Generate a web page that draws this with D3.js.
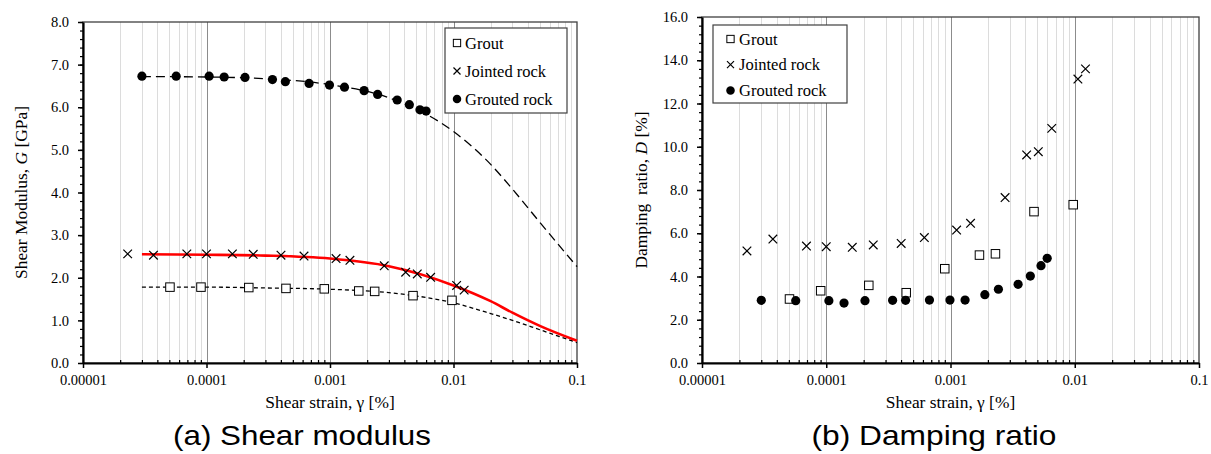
<!DOCTYPE html>
<html>
<head>
<meta charset="utf-8">
<script src="https://cdn.jsdelivr.net/npm/d3@7"></script>
<style>
body { margin: 0; background: #fff; }
svg text { font-family: "Liberation Serif", "Times New Roman", serif !important; fill: #000; }
svg text.sub { font-family: "Liberation Sans", Arial, sans-serif !important; }
</style>
</head>
<body>
<svg id="chart" width="1211" height="454"></svg>
<script>
// legend / axis text
let seriesNames = ['Grout', 'Jointed rock', 'Grouted rock']
let xTickValues = [1e-5, 1e-4, 1e-3, 1e-2, 1e-1]
let xTickLabels = ['0.00001', '0.0001', '0.001', '0.01', '0.1']

// shear strain [%] of each test point
let groutStrain = [5.06e-5, 9.02e-5, 2.20e-4, 4.40e-4, 8.99e-4, 1.71e-3, 2.30e-3, 4.70e-3, 9.72e-3]
let jointStrain = [2.30e-5, 3.72e-5, 6.93e-5, 1.00e-4, 1.62e-4, 2.39e-4, 4.01e-4, 6.16e-4,
	1.12e-3, 1.45e-3, 2.75e-3, 4.10e-3, 5.09e-3, 6.53e-3, 1.06e-2, 1.22e-2]
let groutedStrain = [3.0e-5, 5.68e-5, 1.05e-4, 1.39e-4, 2.05e-4, 3.42e-4, 4.35e-4, 6.77e-4,
	9.9e-4, 1.31e-3, 1.89e-3, 2.43e-3, 3.50e-3, 4.39e-3, 5.35e-3, 6.0e-3]

// shear modulus G [GPa]
let groutG = [1.78, 1.78, 1.77, 1.75, 1.74, 1.69, 1.68, 1.58, 1.47]
let jointG = [2.56, 2.53, 2.56, 2.56, 2.56, 2.55, 2.53, 2.51, 2.45, 2.41, 2.28, 2.13, 2.09, 2.01, 1.82, 1.71]
let groutedG = [6.73, 6.73, 6.73, 6.71, 6.70, 6.65, 6.60, 6.56, 6.52, 6.47, 6.39, 6.30, 6.17, 6.06, 5.94, 5.91]

// fitted curves
let fitStrain = [3e-5, 1e-4, 3e-4, 1e-3, 3e-3, 1e-2, 2e-2, 3e-2, 5e-2, 1e-1]
let groutFitG = [1.78, 1.78, 1.76, 1.73, 1.65, 1.41, 1.16, 1.00, 0.78, 0.48]
let jointFitG = [2.55, 2.54, 2.52, 2.45, 2.27, 1.82, 1.45, 1.18, 0.87, 0.52]
let groutedFitG = [6.72, 6.71, 6.67, 6.53, 6.22, 5.43, 4.66, 4.08, 3.30, 2.26]

// damping ratio D [%]
let groutD = [2.96, 3.34, 3.59, 3.25, 4.36, 4.99, 5.05, 7.00, 7.32]
let jointD = [5.18, 5.73, 5.41, 5.38, 5.35, 5.46, 5.53, 5.80, 6.15, 6.46, 7.65, 9.62, 9.77, 10.85, 13.13, 13.60]
let groutedD = [2.90, 2.88, 2.88, 2.77, 2.88, 2.90, 2.90, 2.91, 2.91, 2.91, 3.16, 3.41, 3.64, 4.02, 4.50, 4.84]

let svg = d3.select('#chart')
let serif = '"Liberation Serif", "Times New Roman", serif'

function zip(a, b) {
	return a.map(function(v, i) { return [v, b[i]] })
}

function drawSquare(sel, size) {
	sel.append('rect')
		.attr('x', -size / 2).attr('y', -size / 2)
		.attr('width', size).attr('height', size)
		.attr('fill', '#fff').attr('stroke', '#000').attr('stroke-width', 1)
}
function drawCross(sel, size) {
	let h = size / 2
	sel.append('path')
		.attr('d', `M${-h},${-h}L${h},${h}M${-h},${h}L${h},${-h}`)
		.attr('stroke', '#000').attr('stroke-width', 1.2).attr('fill', 'none')
}
function drawDot(sel, size) {
	sel.append('circle').attr('r', size / 2).attr('fill', '#000')
}

function drawPanel(p) {
	let x = d3.scaleLog().domain([1e-5, 0.1]).range([p.left, p.right])
	let y = d3.scaleLinear().domain([0, p.yMax]).range([p.bottom, p.top])
	let g = svg.append('g')

	// vertical grid
	let minor = []
	xTickValues.slice(0, -1).forEach(function(d) {
		for (let k = 2; k < 10; k++) minor.push(k * d)
	})
	g.selectAll('line.minor').data(minor).enter().append('line')
		.attr('class', 'minor')
		.attr('x1', d => Math.round(x(d)) + 0.5).attr('x2', d => Math.round(x(d)) + 0.5)
		.attr('y1', p.top).attr('y2', p.bottom)
		.attr('stroke', '#dcdcdc').attr('stroke-width', 1)
	g.selectAll('line.major').data(xTickValues.slice(1, -1)).enter().append('line')
		.attr('class', 'major')
		.attr('x1', d => Math.round(x(d)) + 0.5).attr('x2', d => Math.round(x(d)) + 0.5)
		.attr('y1', p.top).attr('y2', p.bottom)
		.attr('stroke', '#8c8c8c').attr('stroke-width', 1)

	g.append('rect')
		.attr('x', p.left).attr('y', p.top)
		.attr('width', p.right - p.left).attr('height', p.bottom - p.top)
		.attr('fill', 'none').attr('stroke', '#404040').attr('stroke-width', 1.3)

	// y axis
	let yMajor = d3.range(0, p.yMax + 1e-9, p.yStep)
	let yMinor = d3.range(0, p.yMax + 1e-9, p.yMinorStep)
	g.append('g').attr('transform', `translate(${p.left},0)`)
		.call(d3.axisLeft(y).tickValues(yMinor).tickSize(3).tickSizeOuter(0).tickFormat(''))
		.call(s => s.select('.domain').remove())
		.selectAll('line').attr('stroke-width', 1.2)
	let ya = g.append('g').attr('transform', `translate(${p.left},0)`)
		.call(d3.axisLeft(y).tickValues(yMajor).tickSize(5).tickSizeOuter(0).tickPadding(9).tickFormat(d3.format('.1f')))
	ya.attr('font-family', serif)
	ya.select('.domain').attr('stroke-width', 2.2)
	ya.selectAll('line').attr('stroke-width', 1.5)
	ya.selectAll('text').style('font-family', serif).style('font-size', '14.5px')

	// x axis
	g.append('g').attr('transform', `translate(0,${p.bottom})`)
		.call(d3.axisBottom(x).tickValues(minor).tickSize(-3).tickSizeOuter(0).tickFormat(''))
		.call(s => s.select('.domain').remove())
		.selectAll('line').attr('stroke-width', 1.2)
	let xa = g.append('g').attr('transform', `translate(0,${p.bottom})`)
		.call(d3.axisBottom(x).tickValues(xTickValues).tickSize(5).tickSizeOuter(0).tickPadding(7)
			.tickFormat((d, i) => xTickLabels[i]))
	xa.attr('font-family', serif)
	xa.select('.domain').attr('stroke-width', 2.2)
	xa.selectAll('line').attr('stroke-width', 1.5)
	xa.selectAll('text').style('font-family', serif).style('font-size', '14.5px')

	// fitted lines
	let line = d3.line().x(d => x(d[0])).y(d => y(d[1])).curve(d3.curveMonotoneX)
	p.fits.forEach(function(f) {
		g.append('path').datum(zip(fitStrain, f.values))
			.attr('fill', 'none').attr('stroke', f.color)
			.attr('stroke-width', f.width)
			.attr('stroke-dasharray', f.dash)
			.attr('d', line)
	})

	// markers
	let drawers = [drawSquare, drawCross, drawDot]
	let sizes = [8.5, 8.6, 9.2]
	p.series.forEach(function(s, si) {
		g.selectAll(null).data(zip(s.strain, s.values)).enter().append('g')
			.attr('transform', d => `translate(${x(d[0])},${y(d[1])})`)
			.each(function() { drawers[si](d3.select(this), sizes[si]) })
	})

	// legend
	let lg = g.append('g').attr('transform', `translate(${p.legend.x},${p.legend.y})`)
	lg.append('rect').attr('width', p.legend.w).attr('height', p.legend.h)
		.attr('fill', '#fff').attr('stroke', '#404040').attr('stroke-width', 1.2)
	let lsizes = [7.3, 7, 8.5]
	seriesNames.forEach(function(name, i) {
		let row = lg.append('g').attr('transform', `translate(0,${p.legend.row0 + i * p.legend.rowGap})`)
		let m = row.append('g').attr('transform', `translate(${p.legend.mark},0)`)
		drawers[i](m, lsizes[i])
		row.append('text').attr('x', p.legend.text).attr('dy', '0.35em')
			.style('font-family', serif).style('font-size', '16.5px').text(name)
	})

	// axis titles
	let yt = svg.append('text')
		.attr('transform', `translate(${p.yTitleX},${(p.top + p.bottom) / 2}) rotate(-90)`)
		.attr('text-anchor', 'middle').style('font-family', serif).style('font-size', '17.4px')
	yt.append('tspan').text(p.yTitle[0])
	yt.append('tspan').style('font-style', 'italic').text(p.yTitle[1])
	yt.append('tspan').text(p.yTitle[2])

	svg.append('text').attr('x', (p.left + p.right) / 2).attr('y', 408)
		.attr('text-anchor', 'middle').style('font-family', serif).style('font-size', '17.4px')
		.text('Shear strain, \u03b3 [%]')

	svg.append('text').attr('class', 'sub')
		.attr('x', p.subX).attr('y', 445)
		.attr('text-anchor', 'middle').style('font-size', '28px')
		.attr('textLength', p.subLen).attr('lengthAdjust', 'spacingAndGlyphs')
		.text(p.sub)
}

drawPanel({
	left: 83, right: 577, top: 22, bottom: 363,
	yMax: 8, yStep: 1, yMinorStep: 0.2,
	yTitle: ['Shear Modulus, ', 'G', ' [GPa]'], yTitleX: 27,
	sub: '(a) Shear modulus', subX: 302, subLen: 258,
	fits: [
		{values: groutedFitG, color: '#000', width: 1.3, dash: '9,5'},
		{values: groutFitG, color: '#000', width: 1.3, dash: '4,3'},
		{values: jointFitG, color: '#ff0000', width: 2.6, dash: null}
	],
	series: [
		{strain: groutStrain, values: groutG},
		{strain: jointStrain, values: jointG},
		{strain: groutedStrain, values: groutedG}
	],
	legend: {x: 445, y: 28, w: 122, h: 85, row0: 15, rowGap: 28, mark: 12, text: 20}
})

drawPanel({
	left: 702, right: 1199, top: 17, bottom: 363,
	yMax: 16, yStep: 2, yMinorStep: 0.4,
	yTitle: ['Damping\u00a0 ratio, ', 'D', ' [%]'], yTitleX: 647,
	sub: '(b) Damping ratio', subX: 934, subLen: 245,
	fits: [],
	series: [
		{strain: groutStrain, values: groutD},
		{strain: jointStrain, values: jointD},
		{strain: groutedStrain, values: groutedD}
	],
	legend: {x: 713, y: 25, w: 134, h: 78, row0: 14, rowGap: 25.7, mark: 17.5, text: 26}
})
</script>
</body>
</html>
